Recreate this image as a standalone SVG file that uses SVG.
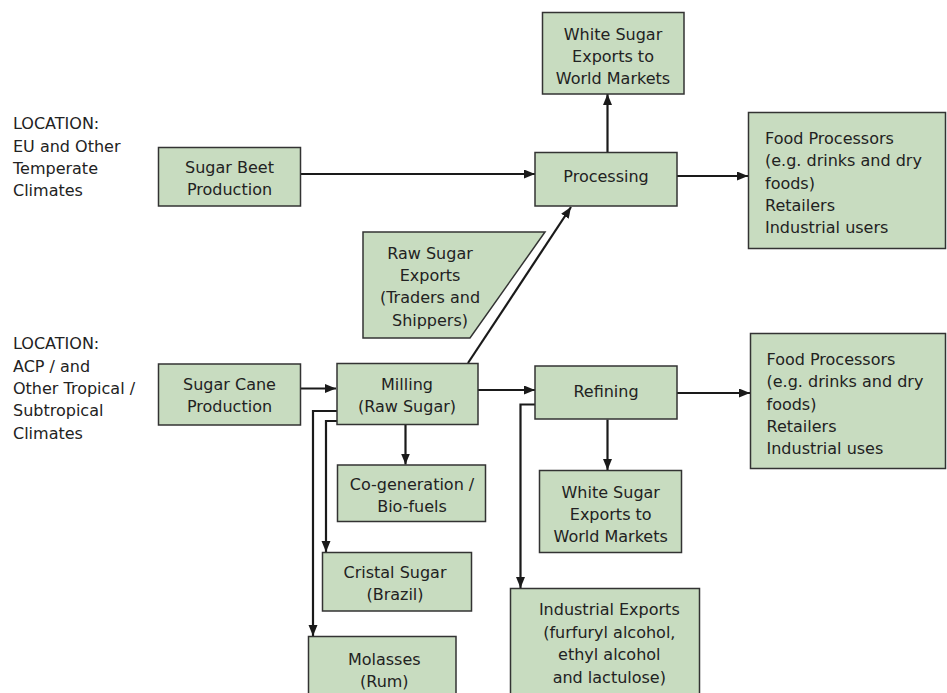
<svg xmlns="http://www.w3.org/2000/svg" width="947" height="693" viewBox="0 0 947 693">
<defs>
<marker id="ah" markerUnits="userSpaceOnUse" markerWidth="12" markerHeight="10" refX="11" refY="4.5" orient="auto">
<path d="M0,0 L11,4.5 L0,9 z" fill="#1a1a1a"/>
</marker>
<style>
.box{fill:#c8dcc0;stroke:#333;stroke-width:1.5}
text{font-family:"DejaVu Sans","Verdana",sans-serif;font-size:16px;fill:#222}
.c{text-anchor:middle}
.con{fill:none;stroke:#1a1a1a;stroke-width:2.2;marker-end:url(#ah)}
</style>
</defs>
<rect width="947" height="693" fill="#fff"/>

<g id="label-eu">
<text x="13" y="129">LOCATION:</text>
<text x="13" y="151.5">EU and Other</text>
<text x="13" y="174">Temperate</text>
<text x="13" y="196">Climates</text>
</g>
<g id="label-acp">
<text x="13" y="349.3">LOCATION:</text>
<text x="13" y="371.6">ACP / and</text>
<text x="13" y="393.9">Other Tropical /</text>
<text x="13" y="416.2">Subtropical</text>
<text x="13" y="438.5">Climates</text>
</g>

<g id="connectors">
<line class="con" x1="301" y1="174" x2="535" y2="174"/>
<line class="con" x1="607.5" y1="152" x2="607.5" y2="94"/>
<line class="con" x1="677" y1="176" x2="748" y2="176"/>
<line class="con" x1="468" y1="363" x2="571" y2="207"/>
<line class="con" x1="301" y1="388.5" x2="336" y2="388.5"/>
<line class="con" x1="478" y1="390" x2="535" y2="390"/>
<line class="con" x1="677" y1="393" x2="750" y2="393"/>
<line class="con" x1="607.5" y1="419.5" x2="607.5" y2="470"/>
<path class="con" d="M535,404.5 H520.5 V588"/>
<line class="con" x1="405.5" y1="424.5" x2="405.5" y2="464.5"/>
<path class="con" d="M337,421 H326 V552"/>
<path class="con" d="M337,411 H313 V636"/>
</g>

<g id="sugar-beet">
<rect class="box" x="158.5" y="147.5" width="142" height="58.5"/>
<text class="c" x="229.5" y="172.5">Sugar Beet</text>
<text class="c" x="229.5" y="194.5">Production</text>
</g>
<g id="processing">
<rect class="box" x="535" y="152.5" width="142" height="53.5"/>
<text class="c" x="606" y="182">Processing</text>
</g>
<g id="white-sugar-top">
<rect class="box" x="542.5" y="12.5" width="141.5" height="81.5"/>
<text class="c" x="613" y="39.5">White Sugar</text>
<text class="c" x="613" y="61.8">Exports to</text>
<text class="c" x="613" y="84">World Markets</text>
</g>
<g id="food-top">
<rect class="box" x="748.5" y="112.5" width="197" height="136"/>
<text x="765" y="144">Food Processors</text>
<text x="765" y="166.3">(e.g. drinks and dry</text>
<text x="765" y="188.6">foods)</text>
<text x="765" y="210.9">Retailers</text>
<text x="765" y="233.2">Industrial users</text>
</g>
<g id="raw-sugar-exports">
<polygon class="box" points="363,232 545,232 470,338 363,338"/>
<text class="c" x="430" y="258.5">Raw Sugar</text>
<text class="c" x="430" y="281">Exports</text>
<text class="c" x="430" y="303.3">(Traders and</text>
<text class="c" x="430" y="325.6">Shippers)</text>
</g>
<g id="sugar-cane">
<rect class="box" x="158.5" y="364" width="142" height="61"/>
<text class="c" x="229.5" y="390">Sugar Cane</text>
<text class="c" x="229.5" y="412">Production</text>
</g>
<g id="milling">
<rect class="box" x="337" y="363.5" width="141" height="61"/>
<text class="c" x="407" y="390">Milling</text>
<text class="c" x="407" y="412">(Raw Sugar)</text>
</g>
<g id="refining">
<rect class="box" x="535" y="366" width="142" height="53"/>
<text class="c" x="606" y="396.5">Refining</text>
</g>
<g id="food-bottom">
<rect class="box" x="750.5" y="333.5" width="195" height="135"/>
<text x="766.5" y="365">Food Processors</text>
<text x="766.5" y="387.3">(e.g. drinks and dry</text>
<text x="766.5" y="409.6">foods)</text>
<text x="766.5" y="431.9">Retailers</text>
<text x="766.5" y="454.2">Industrial uses</text>
</g>
<g id="cogeneration">
<rect class="box" x="337.5" y="465" width="148" height="56.5"/>
<text class="c" x="412" y="490">Co-generation /</text>
<text class="c" x="412" y="512">Bio-fuels</text>
</g>
<g id="white-sugar-bottom">
<rect class="box" x="539.5" y="470.5" width="142" height="82"/>
<text class="c" x="610.7" y="497.5">White Sugar</text>
<text class="c" x="610.7" y="519.8">Exports to</text>
<text class="c" x="610.7" y="542">World Markets</text>
</g>
<g id="cristal-sugar">
<rect class="box" x="322.5" y="552.5" width="149" height="58.5"/>
<text class="c" x="395" y="577.5">Cristal Sugar</text>
<text class="c" x="395" y="600">(Brazil)</text>
</g>
<g id="molasses">
<rect class="box" x="308.5" y="636.5" width="147.5" height="70"/>
<text class="c" x="384.3" y="665">Molasses</text>
<text class="c" x="384.3" y="687.3">(Rum)</text>
</g>
<g id="industrial-exports">
<rect class="box" x="510.5" y="588.5" width="189" height="120"/>
<text class="c" x="609.3" y="615">Industrial Exports</text>
<text class="c" x="609.3" y="637.5">(furfuryl alcohol,</text>
<text class="c" x="609.3" y="660">ethyl alcohol</text>
<text class="c" x="609.3" y="682.5">and lactulose)</text>
</g>
</svg>
